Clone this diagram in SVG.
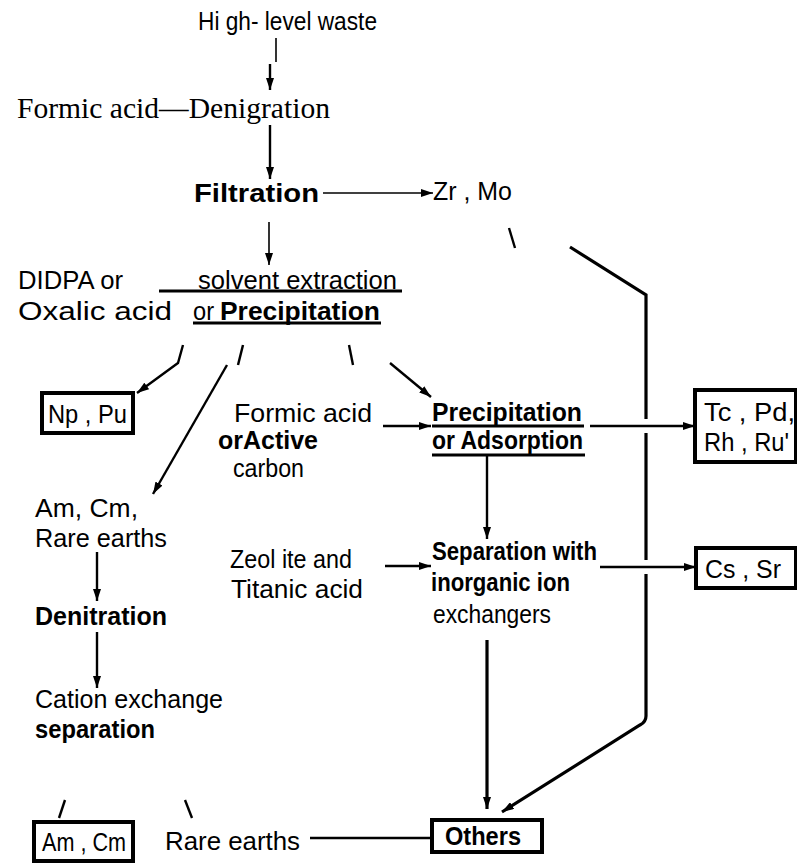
<svg xmlns="http://www.w3.org/2000/svg" width="797" height="863" viewBox="0 0 797 863">
<defs>
<style>
.t{font-family:"Liberation Sans Narrow","Liberation Sans",Arial,sans-serif;font-size:26px;fill:#000}
.b{font-weight:bold}
.serif{font-family:"Liberation Serif","Times New Roman",serif;font-size:29px;fill:#000}
.ln{stroke:#000;stroke-width:2.4;fill:none}
.thin{stroke:#000;stroke-width:1.6;fill:none}
.thick{stroke:#000;stroke-width:3.2;fill:none}
.ul{stroke:#000;stroke-width:3}
.box{fill:#fff;stroke:#000;stroke-width:4}
</style>
<marker id="ah" viewBox="0 0 12 8" refX="12" refY="4" markerWidth="12" markerHeight="8" markerUnits="userSpaceOnUse" orient="auto">
<path d="M0,0 L12,4 L0,8 Z" fill="#000"/>
</marker>
</defs>

<g id="connectors">
<line class="thin" x1="276" y1="38" x2="276" y2="62"/>
<line class="ln" x1="270" y1="64" x2="270" y2="90" marker-end="url(#ah)"/>
<line class="ln" x1="270" y1="125" x2="270" y2="179" marker-end="url(#ah)"/>
<line class="thin" x1="323" y1="193" x2="433" y2="193" marker-end="url(#ah)"/>
<line class="ln" x1="509" y1="228" x2="515" y2="248"/>
<polyline class="thick" points="570,247 646,295 646,419"/>
<line class="thick" x1="646" y1="433" x2="646" y2="560"/>
<path class="thick" d="M646,574 V716 Q646,722 640,725 L502,812" marker-end="url(#ah)"/>
<line class="thin" x1="269" y1="222" x2="269" y2="265" marker-end="url(#ah)"/>
<line class="ul" x1="159" y1="291" x2="402" y2="291"/>
<line class="ul" x1="193" y1="323" x2="381" y2="323"/>
<polyline class="ln" points="183,345 178,363 137,393" marker-end="url(#ah)"/>
<line class="ln" x1="243" y1="345" x2="238" y2="365"/>
<line class="ln" x1="227" y1="365" x2="153" y2="494" marker-end="url(#ah)"/>
<line class="ln" x1="349" y1="345" x2="353" y2="365"/>
<line class="ln" x1="390" y1="363" x2="431" y2="397" marker-end="url(#ah)"/>
<line class="ln" x1="383" y1="426" x2="431" y2="426" marker-end="url(#ah)"/>
<line class="ul" x1="432" y1="426" x2="584" y2="426"/>
<line class="ul" x1="432" y1="455" x2="585" y2="455"/>
<line class="ln" x1="590" y1="426" x2="695" y2="426" marker-end="url(#ah)"/>
<line class="ln" x1="487" y1="455" x2="487" y2="539" marker-end="url(#ah)"/>
<line class="ln" x1="385" y1="566" x2="431" y2="566" marker-end="url(#ah)"/>
<line class="ln" x1="600" y1="567" x2="696" y2="567" marker-end="url(#ah)"/>
<line class="thick" x1="487" y1="640" x2="487" y2="809" marker-end="url(#ah)"/>
<line class="ln" x1="97" y1="552" x2="97" y2="601" marker-end="url(#ah)"/>
<line class="ln" x1="97" y1="632" x2="97" y2="688" marker-end="url(#ah)"/>
<line class="ln" x1="65" y1="800" x2="59" y2="818"/>
<line class="ln" x1="185" y1="800" x2="192" y2="818"/>
<line class="ln" x1="310" y1="838" x2="431" y2="838"/>
</g>

<g id="n-hlw"><text class="t" x="198" y="30" font-size="22" textLength="179" lengthAdjust="spacingAndGlyphs">Hi gh- level waste</text></g>
<g id="n-formic-denig"><text class="serif" x="17" y="118" textLength="313" lengthAdjust="spacingAndGlyphs">Formic acid—Denigration</text></g>
<g id="n-filtration"><text class="t b" x="194" y="202" textLength="125" lengthAdjust="spacingAndGlyphs">Filtration</text></g>
<g id="n-zrmo"><text class="t" x="433" y="200" textLength="79" lengthAdjust="spacingAndGlyphs">Zr , Mo</text></g>
<g id="n-didpa">
<text class="t" x="18" y="289" textLength="105" lengthAdjust="spacingAndGlyphs">DIDPA or</text>
<text class="t" x="198" y="289" textLength="199" lengthAdjust="spacingAndGlyphs">solvent extraction</text>
<text class="t" x="18" y="320" textLength="154" lengthAdjust="spacingAndGlyphs">Oxalic acid</text>
<text class="t" x="193" y="320" textLength="21" lengthAdjust="spacingAndGlyphs">or</text>
<text class="t b" x="220" y="320" textLength="160" lengthAdjust="spacingAndGlyphs">Precipitation</text>
</g>
<g id="n-nppu"><rect class="box" x="42" y="393" width="91" height="40"/><text class="t" x="48" y="423" textLength="79" lengthAdjust="spacingAndGlyphs">Np , Pu</text></g>
<g id="n-formic2">
<text class="t" x="234" y="422" font-size="21" textLength="138" lengthAdjust="spacingAndGlyphs">Formic  acid</text>
<text class="t b" x="218" y="449" font-size="21" textLength="100" lengthAdjust="spacingAndGlyphs">orActive</text>
<text class="t" x="233" y="477" font-size="21" textLength="71" lengthAdjust="spacingAndGlyphs">carbon</text>
</g>
<g id="n-precip">
<text class="t b" x="432" y="421" font-size="22" textLength="150" lengthAdjust="spacingAndGlyphs">Precipitation</text>
<text class="t b" x="432" y="449" font-size="22" textLength="151" lengthAdjust="spacingAndGlyphs">or Adsorption</text>
</g>
<g id="n-tc"><rect class="box" x="695" y="390" width="101" height="72"/>
<text class="t" x="704" y="421" font-size="24" textLength="91" lengthAdjust="spacingAndGlyphs">Tc , Pd,</text>
<text class="t" x="704" y="451" font-size="24" textLength="85" lengthAdjust="spacingAndGlyphs">Rh , Ru'</text></g>
<g id="n-amcm-re">
<text class="t" x="35" y="517" textLength="103" lengthAdjust="spacingAndGlyphs">Am, Cm,</text>
<text class="t" x="35" y="547" textLength="132" lengthAdjust="spacingAndGlyphs">Rare  earths</text>
</g>
<g id="n-denitration"><text class="t b" x="35" y="625" textLength="132" lengthAdjust="spacingAndGlyphs">Denitration</text></g>
<g id="n-cation">
<text class="t" x="35" y="708" textLength="188" lengthAdjust="spacingAndGlyphs">Cation  exchange</text>
<text class="t b" x="35" y="738" textLength="120" lengthAdjust="spacingAndGlyphs">separation</text>
</g>
<g id="n-zeolite">
<text class="t" x="230" y="568" font-size="21" textLength="122" lengthAdjust="spacingAndGlyphs">Zeol ite and</text>
<text class="t" x="231" y="598" font-size="21" textLength="132" lengthAdjust="spacingAndGlyphs">Titanic  acid</text>
</g>
<g id="n-separation">
<text class="t b" x="432" y="560" textLength="165" lengthAdjust="spacingAndGlyphs">Separation with</text>
<text class="t b" x="431" y="591" textLength="139" lengthAdjust="spacingAndGlyphs">inorganic ion</text>
<text class="t" x="433" y="623" textLength="118" lengthAdjust="spacingAndGlyphs">exchangers</text>
</g>
<g id="n-cssr"><rect class="box" x="696" y="548" width="100" height="40"/><text class="t" x="705" y="578" textLength="76" lengthAdjust="spacingAndGlyphs">Cs , Sr</text></g>
<g id="n-amcm"><rect class="box" x="34" y="822" width="99" height="39"/><text class="t" x="42" y="851" textLength="84" lengthAdjust="spacingAndGlyphs">Am , Cm</text></g>
<g id="n-re2"><text class="t" x="165" y="850" textLength="135" lengthAdjust="spacingAndGlyphs">Rare  earths</text></g>
<g id="n-others"><rect class="box" x="432" y="820" width="110" height="32"/><text class="t b" x="445" y="845" textLength="76" lengthAdjust="spacingAndGlyphs">Others</text></g>
</svg>
